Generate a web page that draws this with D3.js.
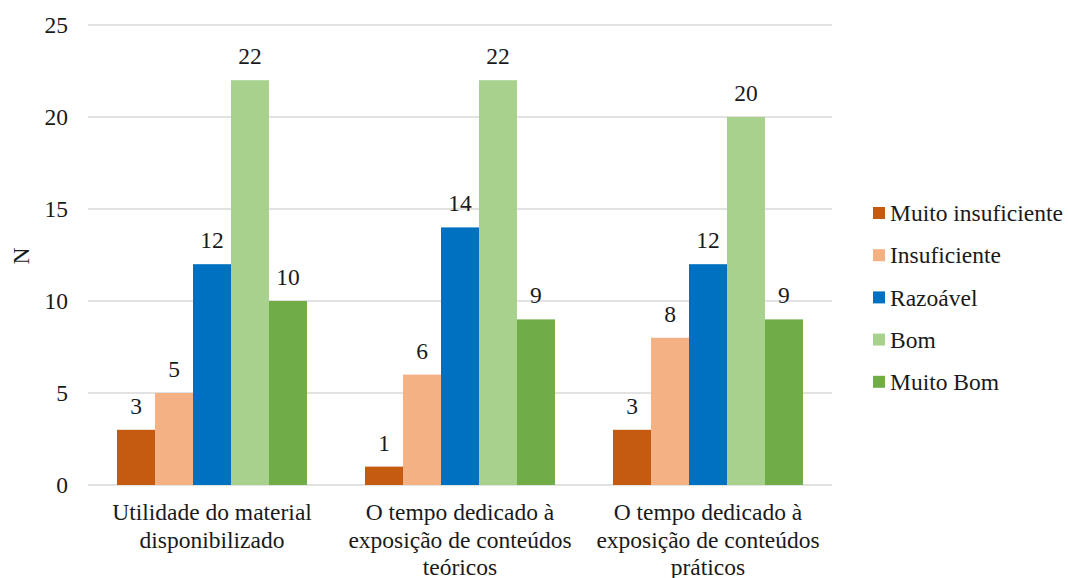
<!DOCTYPE html>
<html>
<head>
<meta charset="utf-8">
<script src="https://cdn.jsdelivr.net/npm/d3@7"></script>
<style>
  html, body { margin: 0; padding: 0; background: #fff; }
  svg { display: block; }
</style>
</head>
<body>
<svg id="chart" width="1068" height="578"></svg>
<script>
// Survey answers per item
const categories = [
  ["Utilidade do material", "disponibilizado"],
  ["O tempo dedicado à", "exposição de conteúdos", "teóricos"],
  ["O tempo dedicado à", "exposição de conteúdos", "práticos"]
];
const seriesNames = ["Muito insuficiente", "Insuficiente", "Razoável", "Bom", "Muito Bom"];
const seriesColors = ["#C55A11", "#F4B183", "#0070C0", "#A9D18E", "#70AD47"];
const muitoInsuficiente = [3, 1, 3];
const insuficiente = [5, 6, 8];
const razoavel = [12, 14, 12];
const bom = [22, 22, 20];
const muitoBom = [10, 9, 9];
const yTicks = [0, 5, 10, 15, 20, 25];

const seriesValues = [muitoInsuficiente, insuficiente, razoavel, bom, muitoBom];

const svg = d3.select("#chart");
const plot = { left: 88, right: 832, top: 25, bottom: 485 };
const fontSize = 23.5;
const textColor = "#1a1a1a";
const serif = "'Liberation Serif', 'DejaVu Serif', 'Noto Serif', 'Times New Roman', Times, serif";

const x0 = d3.scaleBand()
  .domain(d3.range(categories.length))
  .range([plot.left, plot.right])
  .paddingInner(0.234)
  .paddingOuter(0.117);

const x1 = d3.scaleBand()
  .domain(d3.range(seriesNames.length))
  .range([0, x0.bandwidth()]);

const y = d3.scaleLinear().domain([0, 25]).range([plot.bottom, plot.top]);

// Gridlines
svg.append("g")
  .selectAll("line")
  .data(yTicks)
  .join("line")
  .attr("x1", plot.left)
  .attr("x2", plot.right)
  .attr("y1", d => y(d))
  .attr("y2", d => y(d))
  .attr("stroke", "#d9d9d9")
  .attr("stroke-width", 1.3);

// Y axis tick labels
const yAxis = d3.axisLeft(y).tickValues(yTicks).tickSize(0).tickPadding(0);
const gy = svg.append("g")
  .attr("transform", `translate(${plot.left - 20},0)`)
  .call(yAxis);
gy.select(".domain").remove();
gy.selectAll("text")
  .attr("dy", "0.33em");

// Y axis title
svg.append("text")
  .attr("transform", `translate(29,256) rotate(-90)`)
  .attr("text-anchor", "middle")
  .text("N");

// Bars and value labels
const groups = svg.append("g")
  .selectAll("g")
  .data(categories.map((c, i) => i))
  .join("g")
  .attr("transform", i => `translate(${x0(i)},0)`);

groups.selectAll("rect")
  .data(i => seriesValues.map((vals, s) => ({ s, v: vals[i] })))
  .join("rect")
  .attr("x", d => x1(d.s))
  .attr("width", x1.bandwidth())
  .attr("y", d => y(d.v))
  .attr("height", d => y(0) - y(d.v))
  .attr("fill", d => seriesColors[d.s]);

groups.selectAll("text.val")
  .data(i => seriesValues.map((vals, s) => ({ s, v: vals[i] })))
  .join("text")
  .attr("class", "val")
  .attr("x", d => x1(d.s) + x1.bandwidth() / 2)
  .attr("y", d => y(d.v) - 16)
  .attr("text-anchor", "middle")
  .text(d => d.v);

// Category labels
const catLabels = svg.append("g")
  .selectAll("text")
  .data(categories)
  .join("text")
  .attr("text-anchor", "middle");

catLabels.selectAll("tspan")
  .data((lines, i) => lines.map(l => ({ l, i })))
  .join("tspan")
  .attr("x", d => x0(d.i) + x0.bandwidth() / 2)
  .attr("y", (d, k) => 520 + k * 27.7)
  .text(d => d.l);

// Legend
const legend = svg.append("g")
  .selectAll("g")
  .data(seriesNames)
  .join("g")
  .attr("transform", (d, i) => `translate(873,${213 + i * 42.2})`);

legend.append("rect")
  .attr("x", 0)
  .attr("y", -6)
  .attr("width", 12)
  .attr("height", 12)
  .attr("fill", (d, i) => seriesColors[i]);

legend.append("text")
  .attr("x", 17)
  .attr("y", 0)
  .attr("dy", "0.35em")
  .text(d => d);

// Shared text styling
svg.selectAll("text")
  .style("font-family", serif)
  .style("font-size", fontSize + "px")
  .style("fill", textColor);
</script>
</body>
</html>
